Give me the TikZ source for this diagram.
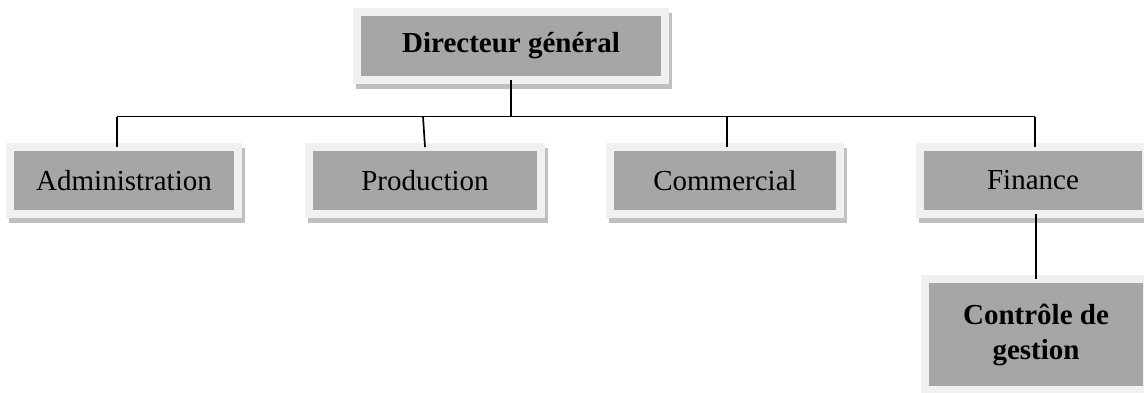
\documentclass[tikz,border=0pt]{standalone}
\usepackage{fontspec}
\setmainfont{Liberation Serif}
\usetikzlibrary{calc,backgrounds}

\definecolor{boxfill}{HTML}{A6A6A6}
\definecolor{boxframe}{HTML}{F0F0F0}
\definecolor{boxshadow}{HTML}{C0C0C0}

\tikzset{
  unit/.style={box/.style={draw=boxframe, fill=boxfill, line width=8pt,
      inner sep=0pt, outer sep=0pt, align=center,
      font=\fontsize{29}{35}\selectfont}},
  link/.style={line width=1.7pt, black},
}

% grey drop shadow under the outer edge of a framed box
\newcommand{\boxshade}[1]{%
  \fill[boxshadow] ($(#1.south west)+(-1pt,-9pt)$) rectangle ($(#1.north east)+(7pt,-1pt)$);}

\begin{document}
\begin{tikzpicture}[x=1pt,y=-1pt,unit]
  \useasboundingbox (0,0) rectangle (1144,392);

  \node[box, minimum width=308pt, minimum height=68pt,
        font=\fontsize{29}{35}\selectfont\bfseries] (dg) at (511,46) {Directeur général};

  \node[box, minimum width=228pt, minimum height=67pt] (adm) at (124,180.5) {Administration};
  \node[box, minimum width=232pt, minimum height=67pt] (prod) at (425,180.5) {Production};
  \node[box, minimum width=230pt, minimum height=67pt] (com) at (725,180.5) {Commercial};
  \node[box, minimum width=226pt, minimum height=67pt] (fin) at (1033,180.5) {Finance};

  \node[box, minimum width=222pt, minimum height=111pt,
        font=\fontsize{29}{35}\selectfont\bfseries] (cg) at (1036,334.5) {Contrôle de\\gestion};

  \begin{scope}[on background layer]
    \foreach \n in {dg,adm,prod,com,fin,cg} {\boxshade{\n}}
  \end{scope}

  % hierarchy links
  \coordinate (bus) at (511,116.5);
  \coordinate (busL) at (117,116.5);
  \coordinate (busP) at (423,116.5);
  \coordinate (busC) at (727,116.5);
  \coordinate (busR) at (1035,116.5);

  \draw[link] (dg.south) -- (bus);
  \draw[link] (busL) -- (busR);
  \draw[link] (busL) -- (busL |- adm.north);
  \draw[link] (busP) -- (prod.north);
  \draw[link] (busC) -- (busC |- com.north);
  \draw[link] (busR) -- (busR |- fin.north);
  \draw[link] (fin.south -| cg.north) -- (cg.north);
\end{tikzpicture}
\end{document}
